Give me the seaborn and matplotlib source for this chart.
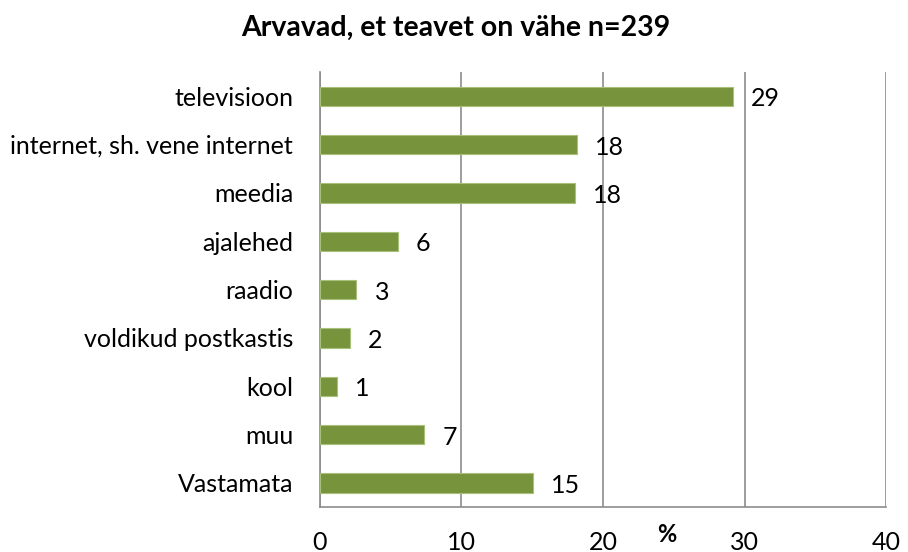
import matplotlib
matplotlib.use("Agg")
import matplotlib.pyplot as plt
import seaborn as sns
import pandas as pd
import numpy as np

categories = ["televisioon", "internet, sh. vene internet", "meedia", "ajalehed",
              "raadio", "voldikud postkastis", "kool", "muu", "Vastamata"]
values = [29.2, 18.15, 18.05, 5.5, 2.6, 2.15, 1.25, 7.4, 15.05]
labels = ["29", "18", "18", "6", "3", "2", "1", "7", "15"]
xticks = [0, 10, 20, 30, 40]
title = "Arvavad, et teavet on vähe n=239"

df = pd.DataFrame({"cat": categories, "val": values})

sns.set_theme(style="white")
plt.rcParams['font.family'] = ['Lato', 'DejaVu Sans']
plt.rcParams['text.color'] = 'black'
plt.rcParams['axes.labelcolor'] = 'black'
plt.rcParams['xtick.labelcolor'] = 'black'
plt.rcParams['ytick.labelcolor'] = 'black'

fig = plt.figure(figsize=(9.08, 5.52), dpi=100)
ax = fig.add_axes([0.352, 0.0815, 0.624, 0.788])

sns.barplot(data=df, y="cat", x="val", orient="h", color="#77933C",
            width=0.4, edgecolor="#A8C07A", linewidth=0.8, saturation=1, ax=ax, zorder=3)

ax.set_xlim(0, 40)
ax.set_ylim(len(categories) - 0.5, -0.5)
ax.set_xticks(xticks)
ax.set_xticklabels([str(t) for t in xticks], fontsize=18, color="black")
ax.xaxis.grid(True, color="#8C8C8C", linewidth=1.2, zorder=0)
ax.yaxis.grid(False)

for s in ["top", "right"]:
    ax.spines[s].set_visible(False)
for s in ["left", "bottom"]:
    ax.spines[s].set_color("#8C8C8C")
    ax.spines[s].set_linewidth(1.2)

ax.set_yticks(range(len(categories)))
ax.set_yticklabels(categories, fontsize=18, color="black")
ax.tick_params(axis="y", length=0, pad=19)
ax.set_yticks(np.arange(-0.5, len(categories), 1), minor=True)
ax.tick_params(axis="y", which="minor", length=6, color="#8C8C8C", width=1.2, direction="out")
ax.tick_params(axis="x", length=6, color="#8C8C8C", width=1.2, direction="out", pad=11)

ax.set_ylabel("")
ax.set_xlabel("%", fontsize=17, fontweight="bold", color="black")
ax.xaxis.set_label_coords(0.613, -0.064)
ax.xaxis.label.set_va("center")

for i, (v, lab) in enumerate(zip(values, labels)):
    ax.annotate(lab, xy=(v, i), xytext=(13, -2), textcoords="offset points",
                ha="left", va="center", fontsize=18, color="black")

fig.text(0.502, 0.949, title, ha="center", va="center", fontsize=20.5,
         fontweight="bold", color="black")

fig.savefig("out.png", dpi=100)
